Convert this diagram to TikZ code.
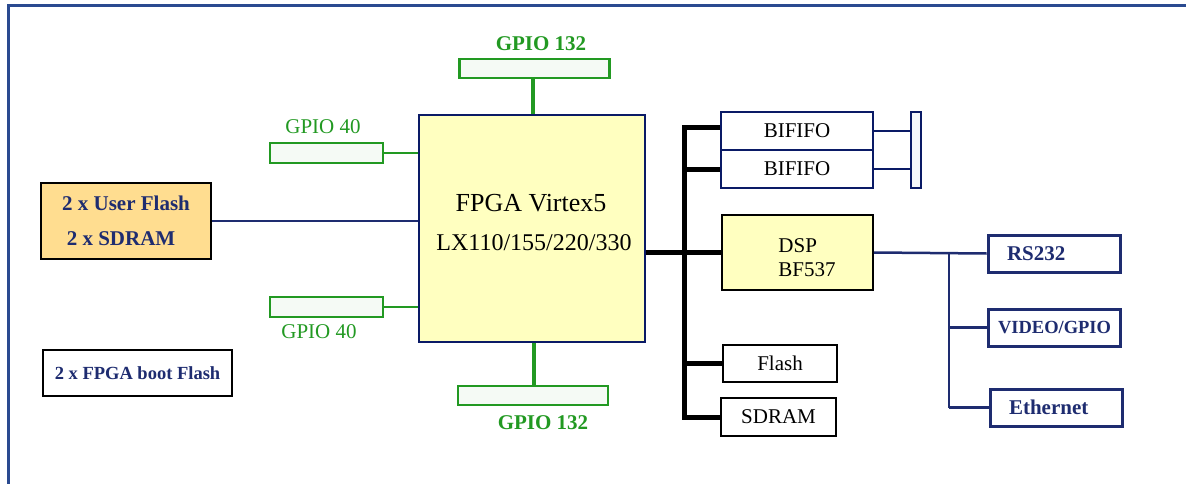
\documentclass[tikz,border=0pt]{standalone}
\usepackage{fontspec}
\setmainfont{Liberation Serif}
\usetikzlibrary{positioning}

\definecolor{frameblue}{HTML}{2A4A90}
\definecolor{navy}{HTML}{0A1A66}
\definecolor{navytext}{HTML}{1E2C70}
\definecolor{gpiogreen}{HTML}{229922}
\definecolor{gpiofill}{HTML}{F5FAF5}
\definecolor{chipyellow}{HTML}{FFFFC0}
\definecolor{memorange}{HTML}{FFDD90}
\definecolor{barfill}{HTML}{F5F7FA}

\def\fnt#1{\fontsize{#1}{#1}\selectfont}

\begin{document}
\begin{tikzpicture}[x=1pt,y=-1pt,font=\fnt{21}]
    \tikzstyle{every node}=[inner sep=0pt]
    \tikzstyle{gpiobox}=[draw=gpiogreen,line width=2.5pt,fill=gpiofill,minimum width=150,minimum height=19]
    \tikzstyle{gpiosmall}=[gpiobox,minimum width=113,minimum height=20,line width=2pt]
    \tikzstyle{gpiolabel}=[text=gpiogreen]
    \tikzstyle{membox}=[draw=black,line width=1.8pt,fill=white]
    \tikzstyle{fifobox}=[draw=navy,line width=1.6pt,fill=white,minimum width=152,minimum height=38]
    \tikzstyle{ifbox}=[draw=navytext,line width=3pt,fill=white,minimum width=132,minimum height=37,
                       text width=94,align=left,text=navytext,font=\bfseries\fnt{21}]
    \tikzstyle{bus}=[line width=5pt,draw=black]
    \tikzstyle{link}=[line width=2.5pt,draw=navytext]

    \useasboundingbox (0,0) rectangle (1186,484);

    % frame
    \draw[frameblue,line width=3pt] (8,484) -- (8,6) -- (1186,6);

    %%%%%%%%%%%%%%%%%%%%%%%%%%%%%%%%%%%%%%%%%%%%
    %%% DRAW THE NODES
    %%%%%%%%%%%%%%%%%%%%%%%%%%%%%%%%%%%%%%%%%%%%
    \node[draw=navy,line width=2.5pt,fill=chipyellow,minimum width=226,minimum height=227] (fpga) at (532,228.5) {};
    \node (fpga-1) at (531,203) {\fnt{26}FPGA Virtex5};
    \node (fpga-2) at (534,243) {\fnt{24}LX110/155/220/330};

    \node[gpiobox] (gtop) at (534.5,68.5) {};
    \node[gpiolabel,font=\bfseries\fnt{21}] (gtop-l) at (541,44) {GPIO 132};
    \node[gpiobox] (gbot) at (533,395.5) {};
    \node[gpiolabel,font=\bfseries\fnt{21}] (gbot-l) at (543,423) {GPIO 132};

    \node[gpiosmall] (g40a) at (326.5,153.5) {};
    \node[gpiolabel] (g40a-l) at (323,127) {GPIO 40};
    \node[gpiosmall] (g40b) at (326.5,307) {};
    \node[gpiolabel] (g40b-l) at (319,332) {GPIO 40};

    \node[membox,fill=memorange,minimum width=170,minimum height=76,align=center,
          text=navytext,font=\bfseries\fnt{21}] (uflash) at (126,221)
          {2 x User Flash\\[14pt]\hspace*{-10pt}2 x SDRAM};
    \node[membox,minimum width=189,minimum height=46,text=navytext,font=\bfseries\fnt{18.5}]
          (bflash) at (137.5,373) {2 x FPGA boot Flash};

    \foreach \name / \y in {1/131,2/169}
        \node[fifobox] (bif-\name) at (797,\y) {BIFIFO};
    \node[draw=navy,line width=1.6pt,fill=barfill,minimum width=10,minimum height=76] (bar) at (916,150) {};

    \node[membox,fill=chipyellow,minimum width=151,minimum height=75] (dsp) at (797.5,252.5) {};
    \node[align=left] (dsp-l) at (807,258) {DSP\\[3pt]BF537};

    \node[membox,minimum width=114,minimum height=37] (flash) at (780,363.5) {Flash};
    \node[membox,minimum width=115,minimum height=38] (sdram) at (778.5,417) {SDRAM};

    \node[ifbox] (rs) at (1054,253.5) {RS232};
    \node[ifbox,text width=112,align=center,font=\bfseries\fnt{18.5}] (video) at (1054,327.5) {VIDEO/GPIO};
    \node[ifbox] (eth) at (1056,407.5) {Ethernet};

    \coordinate (bus) at (684,0);
    \coordinate (hub) at (949,0);

    %%%%%%%%%%%%%%%%%%%%%%%%%%%%%%%%%%%%%%%%%%%%
    %%% DRAW THE PATHS
    %%%%%%%%%%%%%%%%%%%%%%%%%%%%%%%%%%%%%%%%%%%%
    \draw[gpiogreen,line width=4pt] (gtop.south -| 533,0) -- (fpga.north -| 533,0);
    \draw[gpiogreen,line width=4pt] (fpga.south -| 534,0) -- (gbot.north -| 534,0);
    \foreach \g in {g40a,g40b}
        \draw[gpiogreen,line width=2pt] (\g.east) -- (\g.east -| fpga.west);
    \draw[link] (uflash.east) -- (uflash.east -| fpga.west);

    % processor bus
    \draw[bus] (bif-1.west |- 0,128) -| (bus |- sdram.west) -- (sdram.west);
    \foreach \dest in {bif-2,flash}
        \draw[bus] (\dest.west -| bus) -- (\dest.west);
    \draw[bus] (fpga.east |- dsp.west) -- (dsp.west);

    \foreach \name in {1,2}
        \draw[navy,line width=1.6pt] (bif-\name.east) -- (bif-\name.east -| bar.west);

    % DSP peripherals
    \draw[link] (dsp.east) -- (rs.west);
    \draw[link] (hub |- dsp.east) -- (hub |- eth.west);
    \foreach \dest in {video,eth}
        \draw[link] (hub |- \dest.west) -- (\dest.west);
\end{tikzpicture}
\end{document}
